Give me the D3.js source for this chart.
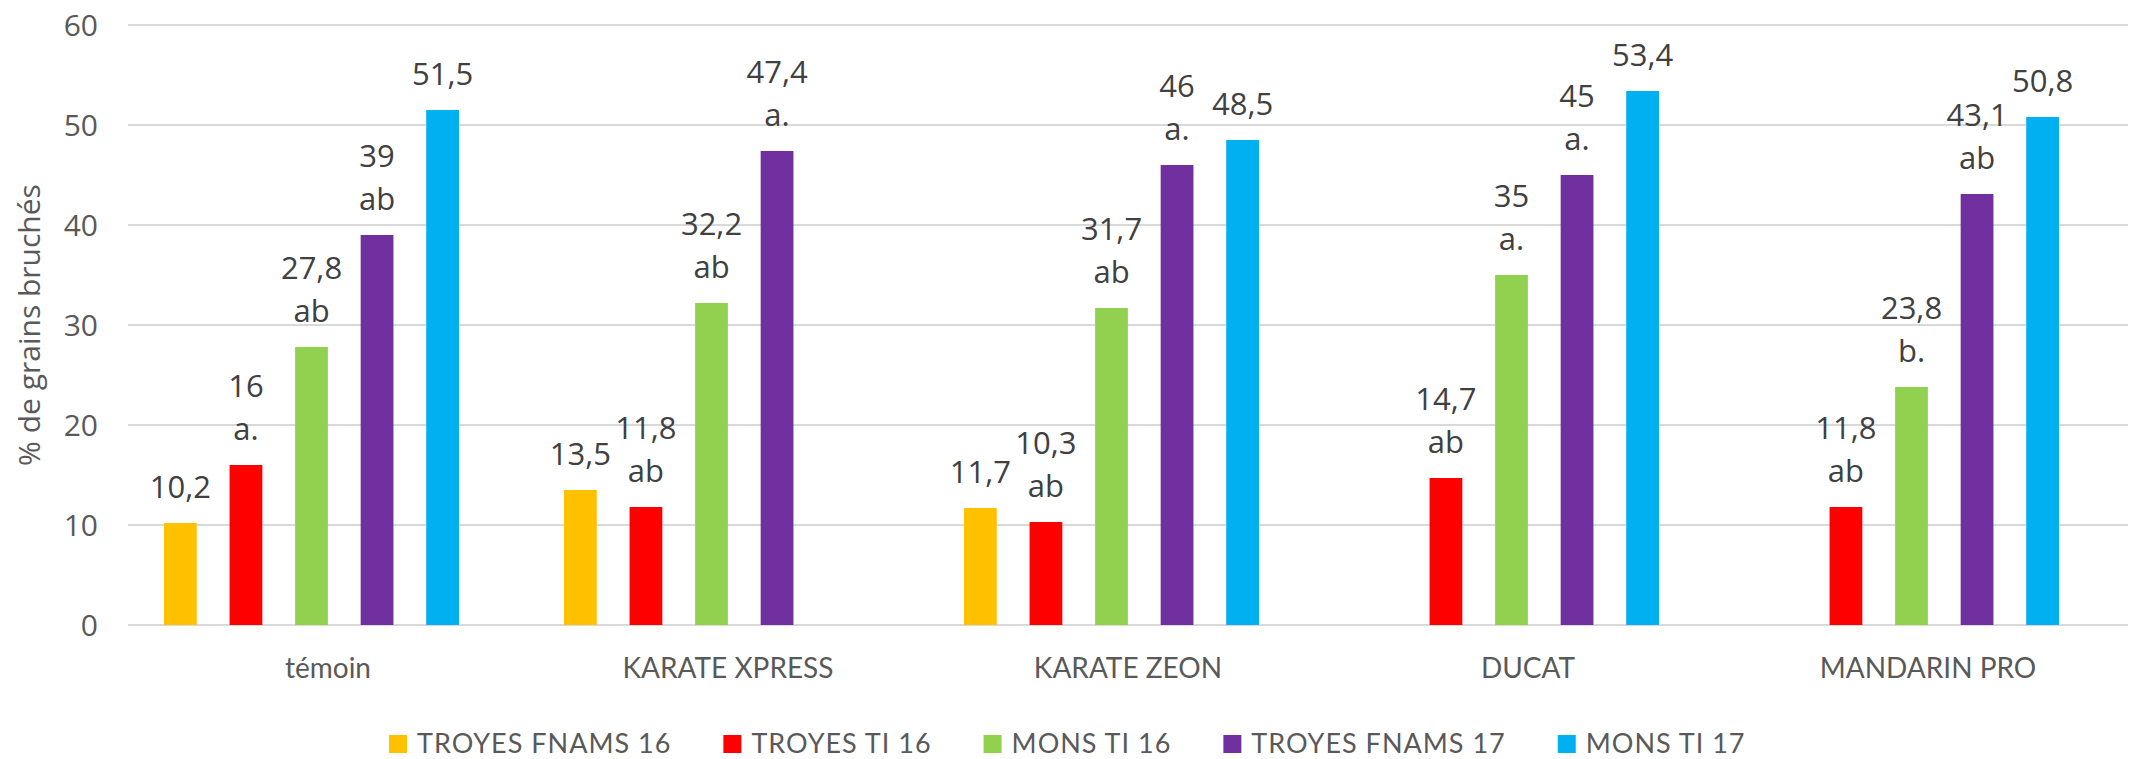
<!DOCTYPE html>
<html>
<head>
<meta charset="utf-8">
<script src="https://cdn.jsdelivr.net/npm/d3@7"></script>
<style>
  html, body { margin: 0; padding: 0; background: #fff; }
  svg { display: block; }
</style>
</head>
<body>
<div id="chart"></div>
<script>
// chart data
const categories = ["témoin", "KARATE XPRESS", "KARATE ZEON", "DUCAT", "MANDARIN PRO"];
const seriesNames = ["TROYES FNAMS 16", "TROYES TI 16", "MONS TI 16", "TROYES FNAMS 17", "MONS TI 17"];
const troyesFnams16 = [10.2, 13.5, 11.7, null, null];
const troyesTi16 = [16, 11.8, 10.3, 14.7, 11.8];
const monsTi16 = [27.8, 32.2, 31.7, 35, 23.8];
const troyesFnams17 = [39, 47.4, 46, 45, 43.1];
const monsTi17 = [51.5, null, 48.5, 53.4, 50.8];
// statistical group letters shown under the values
const lettersFnams16 = ["", "", "", "", ""];
const lettersTi16 = ["a.", "ab", "ab", "ab", "ab"];
const lettersMons16 = ["ab", "ab", "ab", "a.", "b."];
const lettersFnams17 = ["ab", "a.", "a.", "a.", "ab"];
const lettersMons17 = ["", "", "", "", ""];
const yTicks = [0, 10, 20, 30, 40, 50, 60];

const colors = ["#FFC000", "#FF0000", "#92D050", "#7030A0", "#00B0F0"];
const values = [troyesFnams16, troyesTi16, monsTi16, troyesFnams17, monsTi17];
const letters = [lettersFnams16, lettersTi16, lettersMons16, lettersFnams17, lettersMons17];

const width = 2138;
const height = 759;
const textColor = "#595959";

const svg = d3.select("#chart")
  .append("svg")
  .attr("width", width)
  .attr("height", height);

const x0 = d3.scaleBand()
  .domain(categories)
  .range([128, 2128])
  .paddingInner(0)
  .paddingOuter(0);

// bars sit a bit left of the band centre, like the original
const x1 = d3.scaleBand()
  .domain(seriesNames)
  .range([36, 331])
  .paddingInner(0.5)
  .paddingOuter(0);

const y = d3.scaleLinear()
  .domain([0, 60])
  .range([625, 25]);

// gridlines
svg.append("g")
  .selectAll("line")
  .data(yTicks)
  .enter().append("line")
  .attr("x1", x0.range()[0])
  .attr("x2", x0.range()[1])
  .attr("y1", d => y(d))
  .attr("y2", d => y(d))
  .attr("stroke", "#D9D9D9")
  .attr("stroke-width", 2);

// y axis tick labels
const yAxis = d3.axisLeft(y).tickValues(yTicks).tickSize(0).tickPadding(0);
const yg = svg.append("g")
  .attr("transform", "translate(98,0)")
  .call(yAxis);
yg.select(".domain").remove();
yg.selectAll("text")
  .attr("font-family", "'Open Sans', sans-serif")
  .attr("font-size", 30)
  .attr("fill", textColor)
  .attr("dy", "0.36em");

// y axis title
svg.append("text")
  .attr("transform", `translate(40,${(y(0) + y(60)) / 2}) rotate(-90)`)
  .attr("text-anchor", "middle")
  .attr("font-family", "'Open Sans', sans-serif")
  .attr("font-size", 30)
  .attr("fill", textColor)
  .text("% de grains bruchés");

// flatten bars
const bars = [];
categories.forEach((cat, ci) => {
  seriesNames.forEach((s, si) => {
    const v = values[si][ci];
    if (v !== null) {
      bars.push({ cat: cat, series: s, value: v, letter: letters[si][ci], color: colors[si] });
    }
  });
});

svg.append("g")
  .selectAll("rect")
  .data(bars)
  .enter().append("rect")
  .attr("x", d => x0(d.cat) + x1(d.series))
  .attr("y", d => y(d.value))
  .attr("width", x1.bandwidth())
  .attr("height", d => y(0) - y(d.value))
  .attr("fill", d => d.color);

// value labels (comma decimal) + letters
const labels = svg.append("g")
  .selectAll("g")
  .data(bars)
  .enter().append("g")
  .attr("transform", d => `translate(${x0(d.cat) + x1(d.series) + x1.bandwidth() / 2},${y(d.value)})`)
  .attr("font-family", "'Open Sans', sans-serif")
  .attr("font-size", 31)
  .attr("fill", "#404040")
  .attr("text-anchor", "middle");

labels.append("text")
  .attr("y", d => d.letter ? -68 : -25)
  .text(d => String(d.value).replace(".", ","));

labels.filter(d => d.letter)
  .append("text")
  .attr("y", -25)
  .text(d => d.letter);

// category labels
svg.append("g")
  .selectAll("text")
  .data(categories)
  .enter().append("text")
  .attr("x", d => x0(d) + x0.bandwidth() / 2)
  .attr("y", 678)
  .attr("text-anchor", "middle")
  .attr("font-family", "Lato, sans-serif")
  .attr("font-size", 28)
  .attr("fill", textColor)
  .text(d => d);

// legend
const legend = svg.append("g").attr("transform", "translate(389,744)");
let lx = 0;
seriesNames.forEach((name, i) => {
  const item = legend.append("g").attr("transform", `translate(${lx},0)`);
  item.append("rect")
    .attr("x", 0)
    .attr("y", -9)
    .attr("width", 18)
    .attr("height", 18)
    .attr("fill", colors[i]);
  const t = item.append("text")
    .attr("x", 28)
    .attr("y", 9)
    .attr("font-family", "Lato, sans-serif")
    .attr("font-size", 27)
    .attr("letter-spacing", 1)
    .attr("fill", textColor)
    .text(name);
  lx += 28 + t.node().getComputedTextLength() + 52;
});
</script>
</body>
</html>
